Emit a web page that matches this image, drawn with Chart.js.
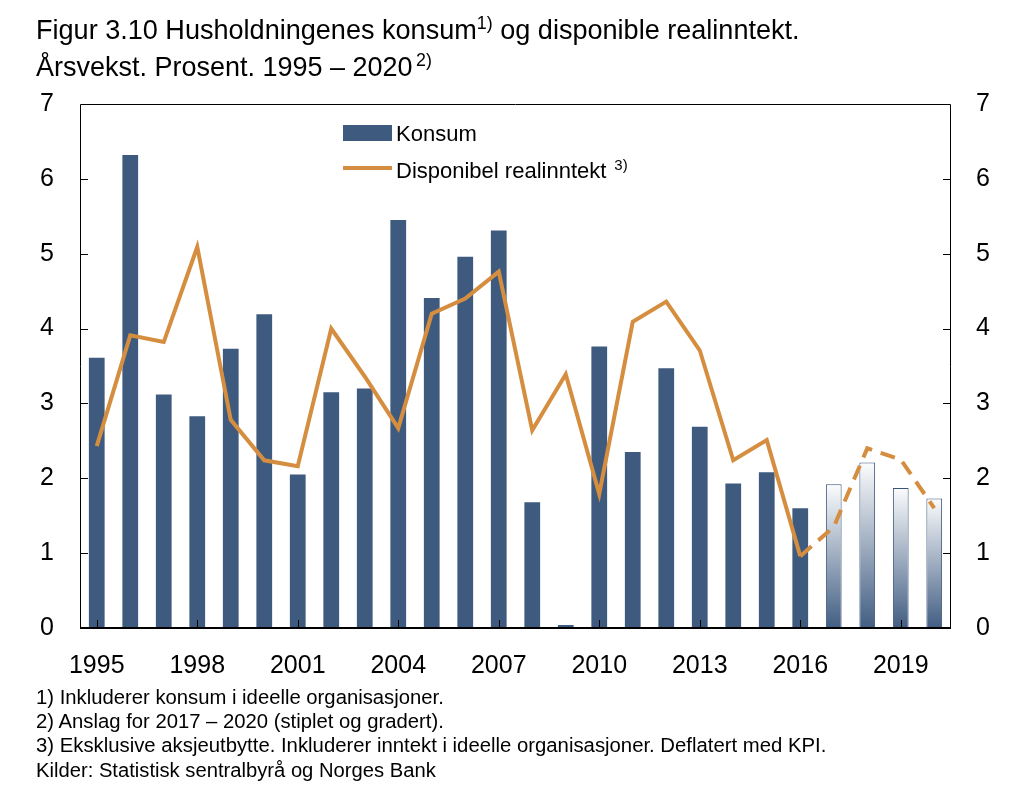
<!DOCTYPE html>
<html>
<head>
<meta charset="utf-8">
<script src="https://cdn.jsdelivr.net/npm/chart.js@4.4.1/dist/chart.umd.min.js"></script>
<style>
  html, body { margin:0; padding:0; background:#fff; }
  body { width:1023px; height:799px; position:relative; overflow:hidden; font-family:'Liberation Sans', Arial, Helvetica, sans-serif; color:#000; }
  #c { position:absolute; left:0; top:0; }
  .t { position:absolute; left:36px; white-space:nowrap; line-height:1; display:inline-block; }
  .t sup { font-size:0.66em; vertical-align:baseline; position:relative; top:-0.55em; line-height:0; }
</style>
</head>
<body>
<canvas id="c" width="1023" height="799"></canvas>
<div class="t" data-w="764" data-b="39">Figur 3.10 Husholdningenes konsum<sup>1)</sup> og disponible realinntekt.</div>
<div class="t" data-w="396" data-b="77">Årsvekst. Prosent. 1995 – 2020<sup style="margin-left:0.2em">2)</sup></div>
<div class="t" data-w="408" data-b="704">1) Inkluderer konsum i ideelle organisasjoner.</div>
<div class="t" data-w="408" data-b="728">2) Anslag for 2017 – 2020 (stiplet og gradert).</div>
<div class="t" data-w="791" data-b="752">3) Eksklusive aksjeutbytte. Inkluderer inntekt i ideelle organisasjoner. Deflatert med KPI.</div>
<div class="t" data-w="400" data-b="777">Kilder: Statistisk sentralbyrå og Norges Bank</div>
<script>
// ---- data ----
const years = ['1995','1996','1997','1998','1999','2000','2001','2002','2003','2004','2005','2006','2007',
               '2008','2009','2010','2011','2012','2013','2014','2015','2016','2017','2018','2019','2020'];
const konsum = [3.61,6.32,3.12,2.83,3.73,4.19,2.05,3.15,3.20,5.45,4.41,4.96,5.31,
                1.68,0.04,3.76,2.35,3.47,2.69,1.93,2.08,1.60,1.92,2.21,1.87,1.73];
const inntekt = [2.43,3.91,3.82,5.09,2.78,2.24,2.16,4.00,3.36,2.67,4.20,4.40,4.76,
                 2.64,3.39,1.79,4.09,4.36,3.71,2.24,2.51,0.96,1.35,2.40,2.25,1.60];
const yTicks = [0,1,2,3,4,5,6,7];
const forecastFrom = 22; // index of 2017
const legendKonsum = 'Konsum';
const legendInntekt = 'Disponibel realinntekt';
const legendInntektNote = '3)';

// ---- text fitting ----
document.querySelectorAll('.t').forEach(el => {
  el.style.fontSize = '100px';
  const w = el.getBoundingClientRect().width;
  const fs = 100 * (+el.dataset.w) / w;
  el.style.fontSize = fs + 'px';
  el.style.top = (+el.dataset.b - 0.8465 * fs) + 'px';
});

const BLUE = '#3e5a7e';
const ORANGE = '#d58e3f';
const FONT = "'Liberation Sans', Arial, Helvetica, sans-serif";

function barFill(c) {
  if (c.type !== 'data' || c.dataIndex < forecastFrom) return BLUE;
  const ch = c.chart, ys = ch.scales.y;
  if (!ys || !ch.chartArea) return BLUE;
  const top = ys.getPixelForValue(c.raw), bot = ys.getPixelForValue(0);
  if (!isFinite(top) || !isFinite(bot) || top === bot) return BLUE;
  const g = ch.ctx.createLinearGradient(0, top, 0, bot);
  g.addColorStop(0, '#fbfcfd');
  g.addColorStop(1, '#425e83');
  return g;
}

const framePlugin = {
  id: 'frame',
  afterDraw(chart) {
    const ctx = chart.ctx, ca = chart.chartArea;
    const xs = chart.scales.x, ys = chart.scales.y;
    ctx.save();
    ctx.strokeStyle = '#000';
    ctx.lineWidth = 1;
    ctx.beginPath();
    ctx.moveTo(Math.round(ca.left) + 0.5, Math.round(ca.bottom));
    ctx.lineTo(Math.round(ca.left) + 0.5, Math.round(ca.top) + 0.5);
    ctx.lineTo(Math.round(ca.right) - 0.5, Math.round(ca.top) + 0.5);
    ctx.lineTo(Math.round(ca.right) - 0.5, Math.round(ca.bottom));
    ctx.stroke();
    // inward ticks
    ctx.beginPath();
    yTicks.forEach(v => {
      if (v === 0 || v === 7) return;
      const y = Math.round(ys.getPixelForValue(v)) + 0.5;
      ctx.moveTo(ca.left, y); ctx.lineTo(ca.left + 8, y);
      ctx.moveTo(ca.right, y); ctx.lineTo(ca.right - 8, y);
    });
    years.forEach((yr, i) => {
      if (i % 3 !== 0) return;
      const x = Math.round(xs.getPixelForValue(i)) + 0.5;
      ctx.moveTo(x, ca.bottom); ctx.lineTo(x, ca.bottom - 8);
    });
    ctx.stroke();
    // bottom axis
    ctx.lineWidth = 2;
    ctx.beginPath();
    ctx.moveTo(ca.left, Math.round(ca.bottom));
    ctx.lineTo(ca.right, Math.round(ca.bottom));
    ctx.stroke();
    // legend
    ctx.fillStyle = BLUE;
    ctx.fillRect(343, 125, 49, 16);
    ctx.strokeStyle = ORANGE;
    ctx.lineWidth = 4;
    ctx.beginPath();
    ctx.moveTo(343, 168); ctx.lineTo(392, 168);
    ctx.stroke();
    ctx.fillStyle = '#000';
    ctx.font = '22px ' + FONT;
    ctx.textBaseline = 'alphabetic';
    ctx.textAlign = 'left';
    ctx.fillText(legendKonsum, 396, 141);
    ctx.fillText(legendInntekt, 396, 178);
    const w = ctx.measureText(legendInntekt).width;
    ctx.font = '15px ' + FONT;
    ctx.fillText(legendInntektNote, 396 + w + 8, 170);
    ctx.restore();
  }
};

const tickFont = { family: FONT, size: 25 };

new Chart(document.getElementById('c'), {
  type: 'bar',
  data: {
    labels: years,
    datasets: [
      {
        type: 'line',
        label: legendInntekt,
        data: inntekt,
        borderColor: ORANGE,
        backgroundColor: ORANGE,
        borderWidth: 4,
        pointRadius: 0,
        tension: 0,
        order: 0,
        borderJoinStyle: 'miter',
        segment: {
          borderDash: c => (c.p0DataIndex >= forecastFrom - 1 ? [15, 9] : undefined)
        }
      },
      {
        type: 'bar',
        label: legendKonsum,
        data: konsum,
        backgroundColor: barFill,
        borderColor: '#3a5478',
        borderWidth: c => (c.dataIndex >= forecastFrom ? 1 : 0),
        barPercentage: 0.47,
        categoryPercentage: 1,
        order: 1
      }
    ]
  },
  options: {
    responsive: false,
    animation: false,
    events: [],
    layout: { padding: { top: 104, bottom: 121, left: 0, right: 0 } },
    plugins: { legend: { display: false }, tooltip: { enabled: false } },
    scales: {
      x: {
        grid: { display: false, drawTicks: false },
        border: { display: false },
        ticks: {
          autoSkip: false, maxRotation: 0, minRotation: 0, padding: 23,
          color: '#000', font: tickFont,
          callback: (v, i) => (i % 3 === 0 ? years[i] : '')
        },
        afterFit: s => { s.height = 50; }
      },
      y: {
        position: 'left', min: 0, max: 7,
        grid: { display: false, drawTicks: false },
        border: { display: false },
        ticks: { stepSize: 1, padding: 26, color: '#000', font: tickFont },
        afterFit: s => { s.width = 80; }
      },
      y2: {
        position: 'right', min: 0, max: 7,
        grid: { display: false, drawTicks: false },
        border: { display: false },
        ticks: { stepSize: 1, padding: 25, color: '#000', font: tickFont },
        afterFit: s => { s.width = 72; }
      }
    }
  },
  plugins: [framePlugin]
});
</script>
</body>
</html>
